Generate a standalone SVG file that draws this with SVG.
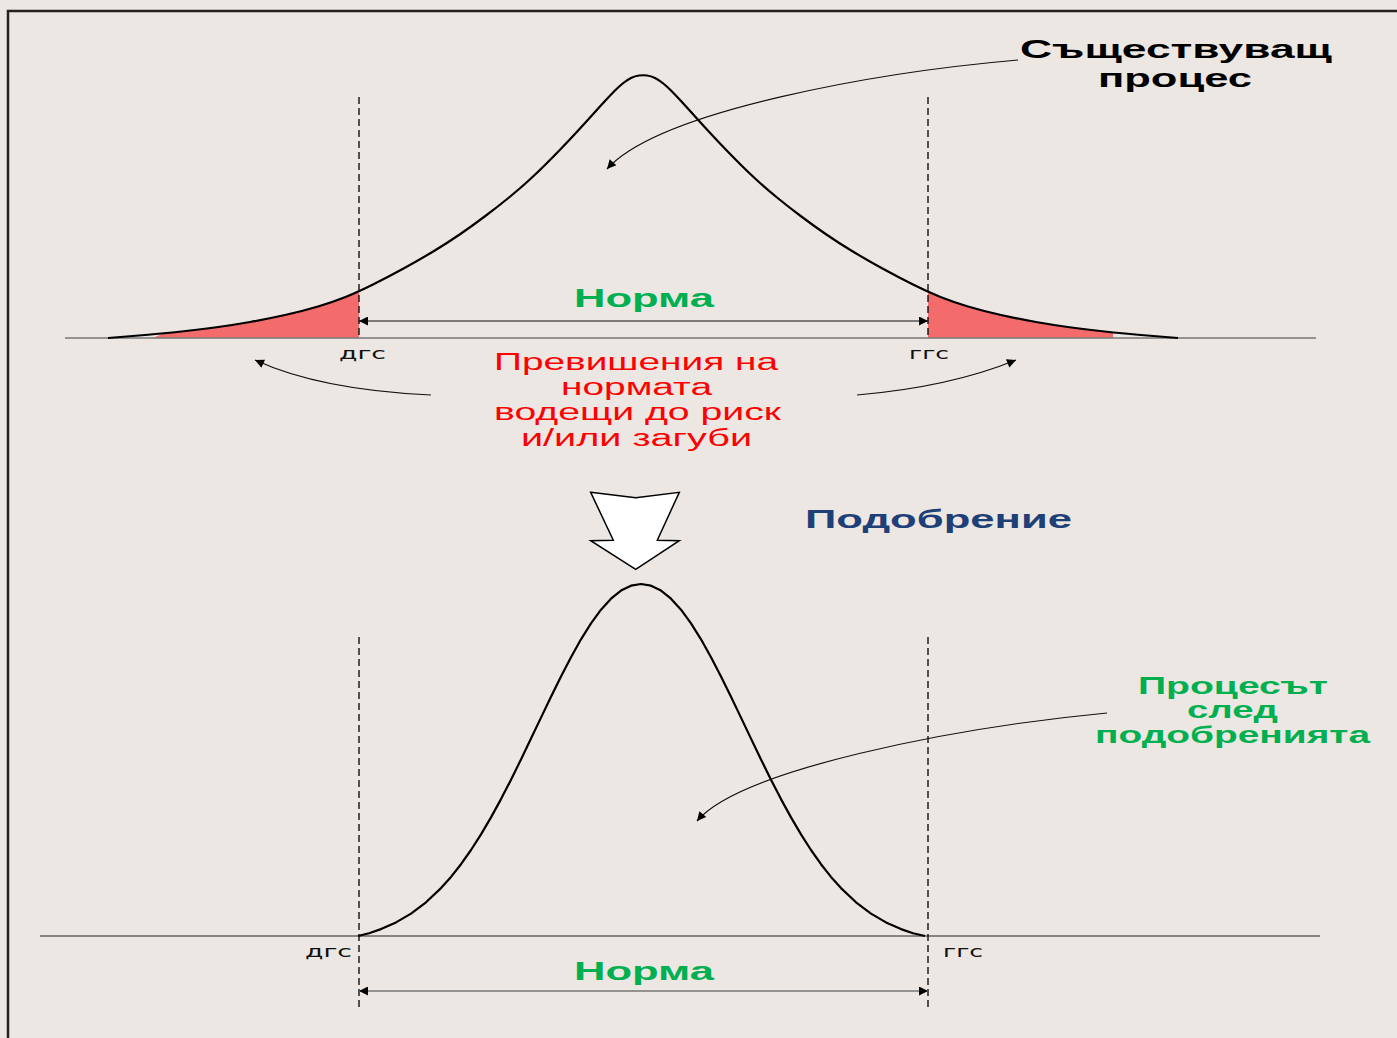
<svg xmlns="http://www.w3.org/2000/svg" width="1397" height="1038" viewBox="0 0 1397 1038">
<style>
.curve{fill:none;stroke:#000;stroke-width:2.2;stroke-linejoin:round}
.dash{stroke:#111;stroke-width:1.4;stroke-dasharray:7 4;fill:none}
.conn{fill:none;stroke:#111;stroke-width:1.2}
.tail{fill:#F46B6B}
.lim{font-family:"DejaVu Sans","Liberation Sans",sans-serif;font-size:16px;fill:#111}
.bold{font-family:"Liberation Sans",Arial,sans-serif;font-weight:bold}
.green{fill:#00B050}
.red{font-family:"Liberation Sans",Arial,sans-serif;font-size:23px;fill:#FF0000}
</style>
<defs>
<marker id="ah" viewBox="0 0 10 10" refX="10" refY="5" markerWidth="13" markerHeight="9" markerUnits="userSpaceOnUse" orient="auto-start-reverse">
<path d="M0,0 L10,5 L0,10 z" fill="#000"/>
</marker>
</defs>
<rect width="1397" height="1038" fill="#ECE7E3"/>
<path d="M8,1038 L8,11 L1397,11" fill="none" stroke="#222" stroke-width="2.5"/>

<g id="top-distribution">
<polygon class="tail" points="153,338 163,333.5 181.5,331.5 200,329.5 216.5,327.3 233,325 250,322 267,319 285,315 303,311 318,306.5 333,302 345.5,297 359,292 359,338"/>
<polygon class="tail" points="928,292 940.5,297 953,302 968,306.5 983,311 1001,315 1019,319 1036,322 1053,325 1069.5,327.3 1086,329.5 1104.5,331.5 1113,332.4 1113,338 928,338"/>
<line x1="65" y1="338" x2="1316" y2="338" stroke="#777" stroke-width="1.6"/>
<path class="curve" d="M108,338 L120.5,337 Q133,336 148,334.75 Q163,333.5 181.5,331.5 Q200,329.5 216.5,327.25 Q233,325 250,322 Q267,319 285,315 Q303,311 318,306.5 Q333,302 345.5,297 Q358,292 373,284.5 Q388,277 404,268.25 Q420,259.5 434,251 Q448,242.5 460,234.25 Q472,226 485,216.25 Q498,206.5 509,197.5 Q520,188.5 529,180.25 Q538,172 545.5,164.5 Q553,157 560.5,149.25 Q568,141.5 577,131.75 Q586,122 592.5,114.75 Q599,107.5 605,101 Q611,94.5 615,90.5 Q619,86.5 623,83.25 Q627,80 631,78 Q635,76 639,75.5 Q643,75 647,75.5 Q651,76 655,78 Q659,80 663,83.25 Q667,86.5 671,90.5 Q675,94.5 681,101 Q687,107.5 693.5,114.75 Q700,122 709,131.75 Q718,141.5 725.5,149.25 Q733,157 740.5,164.5 Q748,172 757,180.25 Q766,188.5 777,197.5 Q788,206.5 801,216.25 Q814,226 826,234.25 Q838,242.5 852,251 Q866,259.5 882,268.25 Q898,277 913,284.5 Q928,292 940.5,297 Q953,302 968,306.5 Q983,311 1001,315 Q1019,319 1036,322 Q1053,325 1069.5,327.25 Q1086,329.5 1104.5,331.5 Q1123,333.5 1138,334.75 Q1153,336 1165.5,337 L1178,338"/>
<line class="dash" x1="359" y1="97" x2="359" y2="338"/>
<line class="dash" x1="928" y1="97" x2="928" y2="338"/>
<text class="lim" x="339" y="359" textLength="47" lengthAdjust="spacingAndGlyphs">дгс</text>
<text class="lim" x="909" y="359" textLength="40" lengthAdjust="spacingAndGlyphs">ггс</text>
<text class="bold green" x="574" y="307" font-size="25" textLength="140" lengthAdjust="spacingAndGlyphs">Норма</text>
</g>

<g id="label-existing">
<text class="bold" x="1020" y="58" font-size="25" fill="#000" textLength="312" lengthAdjust="spacingAndGlyphs">Съществуващ</text>
<text class="bold" x="1098" y="87" font-size="25" fill="#000" textLength="154" lengthAdjust="spacingAndGlyphs">процес</text>
</g>

<g id="label-exceed">
<text class="red" x="494" y="370" textLength="284" lengthAdjust="spacingAndGlyphs">Превишения на</text>
<text class="red" x="561" y="395" textLength="151" lengthAdjust="spacingAndGlyphs">нормата</text>
<text class="red" x="494" y="420" textLength="287" lengthAdjust="spacingAndGlyphs">водещи до риск</text>
<text class="red" x="521" y="446" textLength="231" lengthAdjust="spacingAndGlyphs">и/или загуби</text>
</g>

<g id="improve-arrow">
<polygon points="590.7,492.3 635.7,497.7 679.3,492.3 657.3,540.3 679.3,540.7 635.7,569.3 590.7,540.7 613.3,540.3" fill="#fff" stroke="#000" stroke-width="1.5" stroke-linejoin="miter"/>
</g>
<g id="label-improve">
<text class="bold" x="805" y="528" font-size="25" fill="#1F3F77" textLength="267" lengthAdjust="spacingAndGlyphs">Подобрение</text>
</g>

<g id="bottom-distribution">
<line x1="40" y1="936" x2="1320" y2="936" stroke="#222" stroke-width="1.2"/>
<path class="curve" d="M358,936 L369,933.3 L381,929.1 L396,922.4 L411,913.6 L426,902.3 L441,888.1 L451,876.9 L461,864.2 L471,850 L481,834.4 L491,817.4 L501,799.1 L511,779.7 L521,759.4 L531,738.6 L541,717.6 L551,696.7 L561,676.4 L571,657.2 L581,639.3 L591,623.4 L601,609.7 L611,598.7 L621,590.6 L631,585.7 L641,584 L651,585.7 L661,590.6 L671,598.7 L681,609.7 L691,623.4 L701,639.3 L711,657.2 L721,676.4 L731,696.7 L741,717.6 L751,738.6 L761,759.4 L771,779.7 L781,799.1 L791,817.4 L801,834.4 L811,850 L821,864.2 L831,876.9 L841,888.1 L856,902.3 L871,913.6 L886,922.4 L901,929.1 L913,933.3 L925,936"/>
<line class="dash" x1="359" y1="637" x2="359" y2="1010"/>
<line class="dash" x1="928" y1="637" x2="928" y2="1010"/>
<text class="lim" x="305" y="957" textLength="47" lengthAdjust="spacingAndGlyphs">дгс</text>
<text class="lim" x="943" y="957" textLength="40" lengthAdjust="spacingAndGlyphs">ггс</text>
<text class="bold green" x="574" y="980" font-size="25" textLength="140" lengthAdjust="spacingAndGlyphs">Норма</text>
</g>

<g id="label-after">
<text class="bold green" x="1138" y="694" font-size="23" textLength="190" lengthAdjust="spacingAndGlyphs">Процесът</text>
<text class="bold green" x="1187" y="718" font-size="23" textLength="91" lengthAdjust="spacingAndGlyphs">след</text>
<text class="bold green" x="1095" y="743" font-size="23" textLength="275" lengthAdjust="spacingAndGlyphs">подобренията</text>
</g>

<g id="connectors">
<line x1="359" y1="321" x2="928" y2="321" stroke="#111" stroke-width="1.2" marker-start="url(#ah)" marker-end="url(#ah)"/>
<line x1="359" y1="991" x2="928" y2="991" stroke="#777" stroke-width="1.6" marker-start="url(#ah)" marker-end="url(#ah)"/>
<path class="conn" d="M1018,60 C880,72 660,110 607,169" marker-end="url(#ah)"/>
<path class="conn" d="M1107,713 C950,728 740,770 697,821" marker-end="url(#ah)"/>
<path class="conn" d="M431,395 Q320,390 255,360" marker-end="url(#ah)"/>
<path class="conn" d="M857,395 Q950,387 1016,360" marker-end="url(#ah)"/>
</g>
</svg>
